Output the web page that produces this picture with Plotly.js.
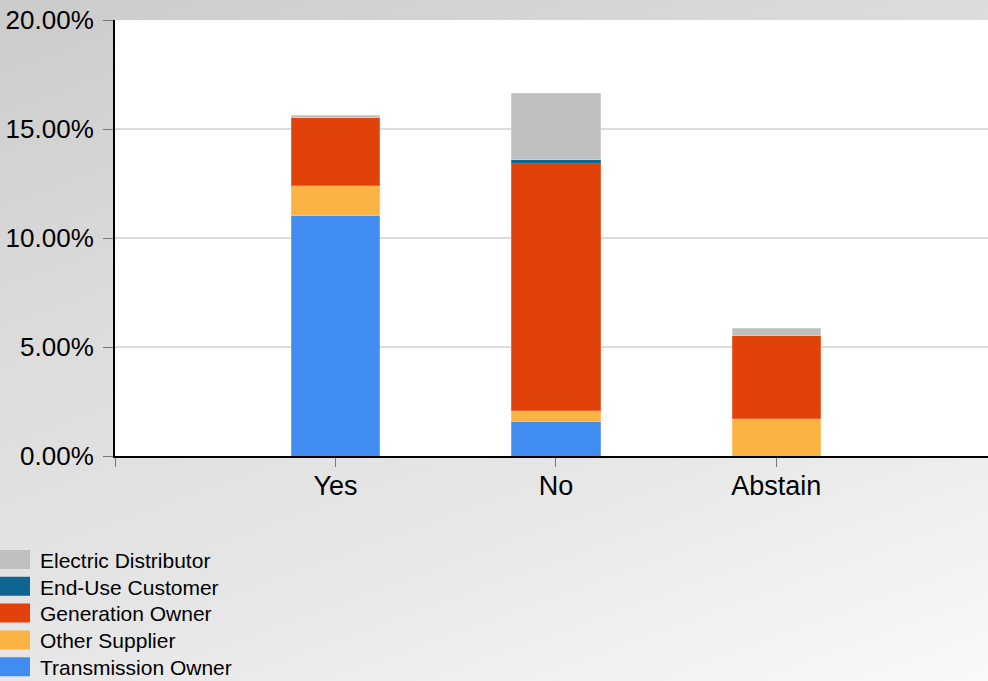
<!DOCTYPE html>
<html>
<head>
<meta charset="utf-8">
<script src="https://cdn.plot.ly/plotly-3.0.1.min.js"></script>
<style>
html,body{margin:0;padding:0;width:988px;height:681px;overflow:hidden;
background:linear-gradient(160deg,#cbcbcb 0%,#dcdcdc 35%,#e6e6e6 65%,#f9f9f9 100%);}
#chart{width:988px;height:681px;}
</style>
</head>
<body>
<div id="chart"></div>
<script>
// Data (percent of votes)
var categories = ["Yes", "No", "Abstain"];
var axisCategories = [" ", "Yes", "No", "Abstain"];
var transmissionOwner = [11.01, 1.56, 0];
var otherSupplier = [1.42, 0.55, 1.74];
var generationOwner = [3.12, 11.33, 3.81];
var endUseCustomer = [0, 0.14, 0];
var electricDistributor = [0.09, 3.07, 0.28];
var yTickValues = [0, 5, 10, 15, 20];
var yTickLabels = ["0.00%", "5.00%", "10.00%", "15.00%", "20.00%"];

var seriesNames = ["Transmission Owner", "Other Supplier", "Generation Owner", "End-Use Customer", "Electric Distributor"];
var seriesValues = [transmissionOwner, otherSupplier, generationOwner, endUseCustomer, electricDistributor];
var seriesColors = ["#418cf0", "#fbb343", "#e04209", "#0e6592", "#bfbfbf"];
var seriesEdges = ["#6aa6f4", "#fcc36a", "#e8683a", "#3d84a8", "#cfcfcf"];

var traces = seriesNames.map(function(n, i){
  return {
    type: "bar", name: n, x: categories, y: seriesValues[i],
    width: 0.4,
    marker: {color: seriesColors[i], line: {color: seriesEdges[i], width: 1}},
    hoverinfo: "none"
  };
});

var layout = {
  width: 988, height: 681,
  paper_bgcolor: "rgba(0,0,0,0)",
  plot_bgcolor: "#ffffff",
  margin: {l: 115, r: 0, t: 20, b: 225, pad: 0, autoexpand: false},
  barmode: "stack",
  font: {family: "Liberation Sans, Arial, sans-serif", color: "#000000"},
  xaxis: {
    type: "category", categoryorder: "array", categoryarray: axisCategories,
    range: [0, 3.96], showgrid: false, automargin: false,
    showline: true, linecolor: "#000000", linewidth: 2,
    ticks: "outside", ticklen: 9, tickcolor: "#777777", tickwidth: 1,
    tickfont: {size: 27}, ticklabelstandoff: -4, zeroline: false, fixedrange: true
  },
  yaxis: {
    range: [0, 20], tickvals: yTickValues, ticktext: yTickLabels, automargin: false,
    showgrid: true, gridcolor: "#dcdcdc", gridwidth: 2,
    showline: true, linecolor: "#000000", linewidth: 2,
    ticks: "outside", ticklen: 10, tickcolor: "#777777", tickwidth: 1,
    tickfont: {size: 26}, ticklabelstandoff: 4, zeroline: false, fixedrange: true
  },
  showlegend: true,
  legend: {
    traceorder: "reversed",
    xref: "container", yref: "container",
    x: 0, y: 0.208, xanchor: "left", yanchor: "top",
    bgcolor: "rgba(0,0,0,0)", borderwidth: 0,
    font: {size: 21, color: "#000000"},
    itemwidth: 30
  }
};

Plotly.newPlot("chart", traces, layout, {displayModeBar: false, staticPlot: true}).then(function(gd){
  var paths = gd.querySelectorAll(".legend .legendpoints path");
  paths.forEach(function(p){
    p.setAttribute("d", "M-20,-9.5H10V9.5H-20Z");
    p.style.strokeWidth = "0";
  });
  var items = gd.querySelectorAll(".legend .traces");
  var y0 = null;
  items.forEach(function(g, i){
    var t = g.getAttribute("transform") || "";
    var m = t.match(/translate\(\s*([-\d.]+)[ ,]+([-\d.]+)\s*\)/);
    if (!m) return;
    if (y0 === null) y0 = parseFloat(m[2]);
    g.setAttribute("transform", "translate(" + m[1] + "," + (y0 + i * 26.8) + ")");
  });
});
</script>
</body>
</html>
